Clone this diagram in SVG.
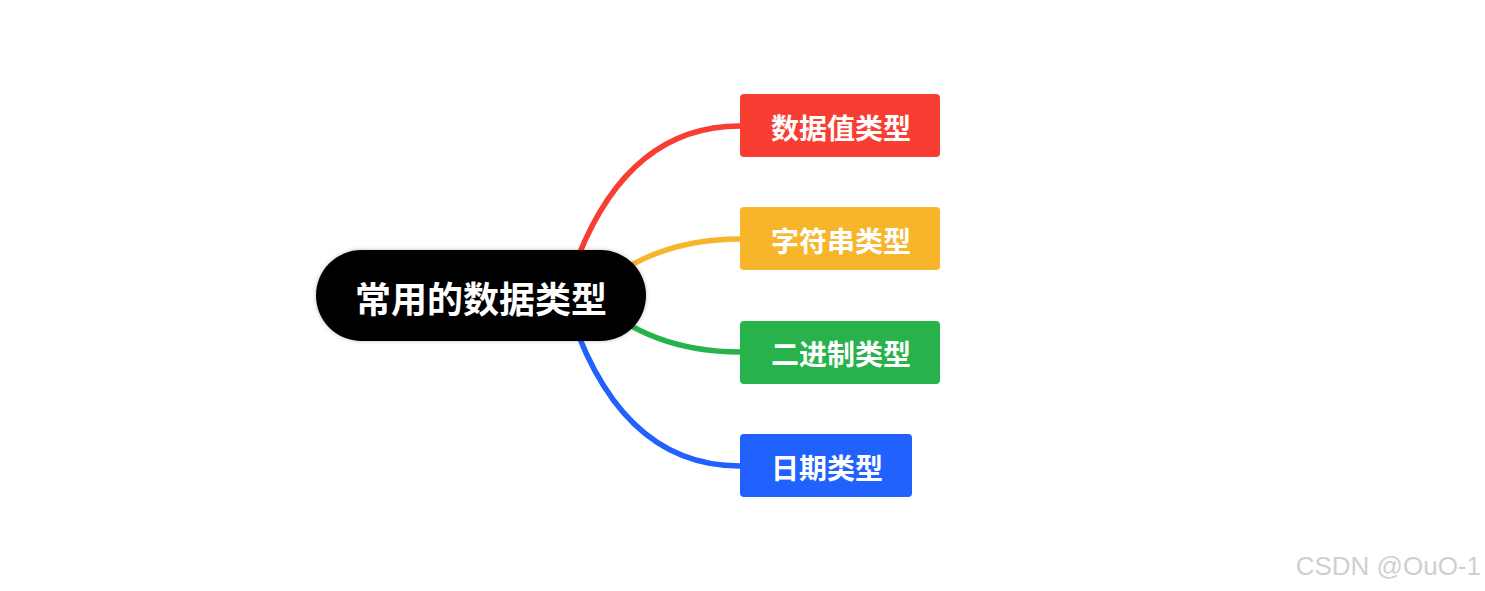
<svg xmlns="http://www.w3.org/2000/svg" width="1485" height="591" viewBox="0 0 1485 591">
<defs>
<style>
.link{fill:none;stroke-width:5.5;stroke-linecap:round}
.lbl{font-family:"Noto Sans CJK SC","Noto Sans",sans-serif;font-weight:bold;fill:#fff;text-anchor:middle;dominant-baseline:central}
.child .lbl{font-size:28px}
.box{stroke:none}
</style>
<filter id="sh" x="-10%" y="-20%" width="120%" height="140%">
<feDropShadow dx="0" dy="0" stdDeviation="2" flood-color="#000" flood-opacity="0.25"/>
</filter>
</defs>
<rect width="1485" height="591" fill="#fff"/>
<g id="connectors">
<path class="link" stroke="#f83e32" d="M565 295 Q615 126 740 126"/>
<path class="link" stroke="#f7b52c" d="M590 295 Q650 239 740 239"/>
<path class="link" stroke="#28b24c" d="M590 296 Q650 352 740 352"/>
<path class="link" stroke="#2162fe" d="M565 296 Q615 466 740 466"/>
</g>
<g id="root">
<rect x="316" y="250" width="330" height="91" rx="45.5" fill="#000" filter="url(#sh)"/>
<text class="lbl" x="481" y="297" font-size="36">常用的数据类型</text>
</g>
<g id="n1" class="child">
<rect class="box" x="740" y="94" width="200" height="63" rx="4" fill="#f83e32"/>
<text class="lbl" x="841" y="126.5">数据值类型</text>
</g>
<g id="n2" class="child">
<rect class="box" x="740" y="207" width="200" height="63" rx="4" fill="#f7b52c"/>
<text class="lbl" x="841" y="239.5">字符串类型</text>
</g>
<g id="n3" class="child">
<rect class="box" x="740" y="321" width="200" height="63" rx="4" fill="#28b24c"/>
<text class="lbl" x="841" y="353">二进制类型</text>
</g>
<g id="n4" class="child">
<rect class="box" x="740" y="434" width="172" height="63" rx="4" fill="#2162fe"/>
<text class="lbl" x="827" y="466.5">日期类型</text>
</g>
<text x="1481" y="575" font-family="Liberation Sans, Arial, sans-serif" font-size="26" font-weight="normal" fill="#cfcfcf" text-anchor="end">CSDN @OuO-1</text>
</svg>
